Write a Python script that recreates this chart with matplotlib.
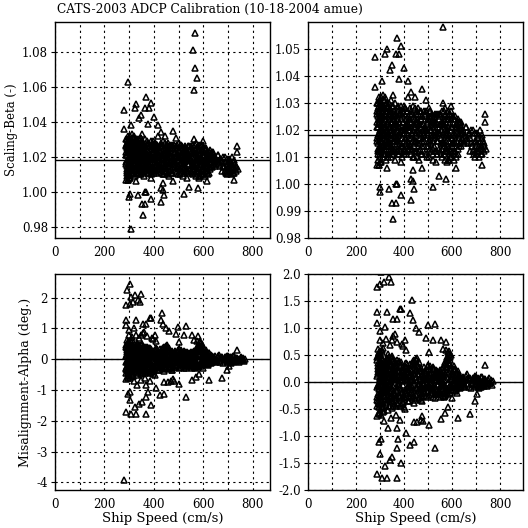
import matplotlib
matplotlib.use("Agg")
import matplotlib.pyplot as plt
from matplotlib.ticker import MultipleLocator, FormatStrFormatter

# core ensembles: ship speed (cm/s), scaling beta (-), misalignment alpha (deg)
speed = [
    288, 291, 293, 295, 297, 299, 301, 303, 305, 307,
    289, 292, 294, 296, 298, 300, 302, 304, 306, 308,
    310, 312, 314, 316, 318, 311, 313, 315, 317, 319,
    290, 294, 298, 302, 306, 309, 313, 317, 296, 300,
    304, 308, 312, 316, 320, 287, 292, 297, 303, 311,
    322, 325, 328, 331, 334, 337, 340, 343, 346, 349,
    352, 355, 358, 324, 327, 330, 333, 336, 339, 342,
    345, 348, 351, 354, 357, 360, 321, 326, 332, 338,
    344, 350, 356, 329, 335, 341, 347, 353, 359, 323,
    362, 366, 370, 374, 378, 382, 386, 390, 394, 398,
    402, 406, 410, 414, 418, 364, 368, 372, 376, 380,
    384, 388, 392, 396, 400, 404, 408, 412, 416, 420,
    363, 369, 375, 381, 387, 393, 399, 405, 411, 417,
    367, 379, 391, 403, 415,
    422, 426, 430, 434, 438, 442, 446, 450, 454, 458,
    462, 466, 470, 474, 478, 424, 428, 432, 436, 440,
    444, 448, 452, 456, 460, 464, 468, 472, 476, 480,
    425, 435, 445, 455, 465, 475, 431, 441, 451, 461,
    483, 487, 491, 495, 499, 503, 507, 511, 515, 519,
    523, 527, 531, 535, 539, 485, 489, 493, 497, 501,
    505, 509, 513, 517, 521, 525, 529, 533, 537, 490,
    500, 510, 520, 530, 540,
    543, 547, 551, 555, 559, 563, 567, 571, 575, 579,
    583, 587, 591, 595, 599, 545, 549, 553, 557, 561,
    565, 569, 573, 577, 581, 585, 589, 593, 597, 600,
    548, 558, 568, 578, 588, 598, 576, 584, 592, 580,
    603, 606, 609, 612, 615, 618, 621, 624, 627, 630,
    633, 636, 639, 604, 610, 616, 622, 628, 634, 640,
    607, 619,
    645, 652, 659, 666, 673, 680, 687, 649, 663, 677,
    692, 696, 700, 704, 708, 712, 716, 720, 724, 728,
    732, 698, 706, 714, 722, 730,
    # second pass
    286, 289, 291, 294, 296, 299, 301, 304, 306, 309,
    311, 314, 316, 319, 287, 290, 293, 295, 298, 300,
    303, 305, 308, 310, 313, 315, 318, 320, 288, 292,
    297, 301, 305, 309, 314, 318, 290, 299, 307, 316,
    321, 324, 326, 329, 331, 334, 336, 339, 341, 344,
    346, 349, 351, 354, 356, 359, 322, 327, 333, 337,
    342, 347, 352, 357, 325, 330, 335, 340, 345, 350, 355, 360,
    361, 365, 368, 371, 375, 378, 381, 385, 388, 391,
    395, 398, 401, 405, 408, 411, 415, 419, 363, 370,
    377, 383, 390, 397, 404, 410, 417, 366, 373, 380,
    389, 396, 406, 413, 420,
    421, 425, 429, 433, 437, 441, 445, 449, 453, 457,
    461, 465, 469, 473, 477, 423, 431, 439, 447, 455,
    463, 471, 479, 427, 443, 459, 475, 435, 451, 467,
    481, 485, 489, 493, 497, 501, 505, 509, 513, 517,
    521, 525, 529, 533, 537, 482, 488, 494, 502, 508,
    514, 522, 528, 534, 498, 518, 538, 512,
    541, 545, 549, 553, 557, 561, 565, 569, 573, 577,
    581, 585, 589, 593, 597, 544, 552, 560, 568, 576,
    584, 592, 600, 550, 566, 582, 598, 556, 572, 588, 590, 579,
    601, 605, 608, 611, 614, 617, 620, 623, 626, 629, 632, 635, 638, 613, 625, 637,
    642, 648, 655, 662, 669, 676, 683, 689,
    694, 702, 710, 718, 726, 734, 690, 699, 709, 717, 725, 733,
]
beta = [
    1.021, 1.028, 1.015, 1.032, 1.024, 1.011, 1.019, 1.026, 1.013, 1.030,
    1.017, 1.009, 1.027, 1.022, 1.014, 1.031, 1.020, 1.008, 1.025, 1.016,
    1.023, 1.029, 1.012, 1.018, 1.026, 1.033, 1.010, 1.021, 1.015, 1.028,
    1.025, 1.019, 1.030, 1.013, 1.022, 1.017, 1.027, 1.011, 1.024, 1.016,
    1.029, 1.020, 1.014, 1.031, 1.019, 1.027, 1.012, 1.023, 1.018, 1.025,
    1.024, 1.013, 1.029, 1.018, 1.010, 1.026, 1.021, 1.015, 1.031, 1.012,
    1.023, 1.019, 1.027, 1.016, 1.030, 1.022, 1.011, 1.025, 1.014, 1.028,
    1.020, 1.017, 1.029, 1.013, 1.024, 1.018, 1.032, 1.020, 1.015, 1.030,
    1.023, 1.011, 1.021, 1.027, 1.019, 1.012, 1.026, 1.016, 1.022, 1.009,
    1.018, 1.026, 1.012, 1.029, 1.021, 1.015, 1.024, 1.010, 1.027, 1.019,
    1.013, 1.028, 1.022, 1.016, 1.025, 1.030, 1.014, 1.020, 1.011, 1.026,
    1.019, 1.029, 1.017, 1.023, 1.012, 1.021, 1.015, 1.027, 1.018, 1.024,
    1.023, 1.016, 1.027, 1.013, 1.020, 1.025, 1.011, 1.028, 1.019, 1.014,
    1.022, 1.018, 1.014, 1.017, 1.021,
    1.021, 1.014, 1.027, 1.018, 1.010, 1.025, 1.016, 1.022, 1.012, 1.028,
    1.019, 1.015, 1.024, 1.011, 1.020, 1.026, 1.017, 1.013, 1.029, 1.021,
    1.015, 1.023, 1.018, 1.010, 1.026, 1.020, 1.013, 1.027, 1.016, 1.022,
    1.024, 1.019, 1.012, 1.027, 1.017, 1.025, 1.011, 1.022, 1.016, 1.009,
    1.018, 1.025, 1.011, 1.022, 1.015, 1.028, 1.013, 1.020, 1.026, 1.009,
    1.017, 1.023, 1.012, 1.019, 1.026, 1.014, 1.021, 1.027, 1.010, 1.024,
    1.016, 1.020, 1.012, 1.025, 1.018, 1.014, 1.022, 1.008, 1.016, 1.020,
    1.023, 1.017, 1.011, 1.021, 1.019,
    1.021, 1.013, 1.026, 1.017, 1.010, 1.023, 1.015, 1.028, 1.019, 1.012,
    1.024, 1.009, 1.020, 1.027, 1.014, 1.018, 1.025, 1.011, 1.022, 1.016,
    1.027, 1.012, 1.020, 1.024, 1.008, 1.017, 1.026, 1.013, 1.021, 1.015,
    1.019, 1.023, 1.014, 1.018, 1.022, 1.010, 1.016, 1.025, 1.011, 1.020,
    1.018, 1.012, 1.024, 1.015, 1.021, 1.010, 1.019, 1.023, 1.013, 1.017,
    1.022, 1.014, 1.020, 1.025, 1.016, 1.011, 1.021, 1.018, 1.015, 1.019,
    1.009, 1.022,
    1.019, 1.016, 1.021, 1.015, 1.018, 1.015, 1.020, 1.015, 1.017, 1.012,
    1.013, 1.010, 1.016, 1.012, 1.018, 1.014, 1.020, 1.011, 1.017, 1.013,
    1.015, 1.019, 1.015, 1.010, 1.014, 1.016,
    # second pass
    1.016, 1.023, 1.030, 1.012, 1.027, 1.019, 1.008, 1.022, 1.028, 1.014,
    1.020, 1.025, 1.031, 1.011, 1.026, 1.013, 1.021, 1.029, 1.017, 1.010,
    1.024, 1.032, 1.015, 1.027, 1.019, 1.023, 1.013, 1.021, 1.030, 1.018,
    1.007, 1.026, 1.016, 1.029, 1.022, 1.017, 1.011, 1.024, 1.020, 1.028,
    1.019, 1.027, 1.014, 1.022, 1.030, 1.016, 1.024, 1.011, 1.028, 1.020,
    1.013, 1.025, 1.017, 1.029, 1.021, 1.012, 1.026, 1.018, 1.023, 1.015,
    1.027, 1.010, 1.019, 1.025, 1.021, 1.014, 1.028, 1.017, 1.023, 1.020, 1.013, 1.026,
    1.025, 1.013, 1.021, 1.017, 1.028, 1.011, 1.023, 1.019, 1.014, 1.026,
    1.020, 1.029, 1.016, 1.012, 1.024, 1.027, 1.013, 1.020, 1.016, 1.022,
    1.018, 1.026, 1.021, 1.014, 1.028, 1.011, 1.022, 1.019, 1.024, 1.016,
    1.012, 1.027, 1.020, 1.023, 1.015,
    1.017, 1.023, 1.012, 1.026, 1.020, 1.014, 1.028, 1.019, 1.024, 1.015,
    1.022, 1.027, 1.011, 1.018, 1.025, 1.013, 1.021, 1.016, 1.024, 1.020,
    1.012, 1.022, 1.017, 1.028, 1.010, 1.023, 1.014, 1.019, 1.026, 1.021,
    1.022, 1.016, 1.026, 1.012, 1.019, 1.024, 1.010, 1.027, 1.015, 1.021,
    1.013, 1.025, 1.018, 1.023, 1.011, 1.027, 1.020, 1.014, 1.018, 1.025,
    1.022, 1.016, 1.026, 1.012, 1.020, 1.023, 1.022, 1.018,
    1.016, 1.024, 1.012, 1.020, 1.027, 1.015, 1.022, 1.009, 1.025, 1.018,
    1.013, 1.021, 1.016, 1.010, 1.024, 1.026, 1.019, 1.013, 1.024, 1.012,
    1.019, 1.023, 1.017, 1.022, 1.011, 1.027, 1.012, 1.015, 1.021, 1.018, 1.026, 1.014,
    1.021, 1.015, 1.019, 1.025, 1.012, 1.022, 1.016, 1.020, 1.024, 1.014, 1.019, 1.023, 1.016, 1.018, 1.011, 1.021,
    1.017, 1.020, 1.018, 1.016, 1.019, 1.017, 1.014, 1.012,
    1.016, 1.011, 1.017, 1.013, 1.018, 1.012, 1.011, 1.014, 1.012, 1.016, 1.011, 1.014,
]
alpha = [
    0.12, -0.35, 0.48, -0.08, 0.27, -0.52, 0.05, 0.39, -0.21, 0.60,
    -0.44, 0.18, -0.13, 0.55, -0.29, 0.02, 0.33, -0.61, 0.22, -0.05,
    0.44, -0.38, 0.09, -0.18, 0.31, -0.47, 0.63, -0.25, 0.15, -0.02,
    0.25, -0.57, 0.07, 0.50, -0.31, 0.36, -0.11, 0.21, -0.41, 0.58,
    -0.16, 0.04, 0.41, -0.24, 0.13, -0.33, 0.29, -0.07, 0.17, -0.49,
    0.21, -0.32, 0.43, -0.12, 0.08, -0.45, 0.34, -0.02, 0.17, -0.26,
    0.49, -0.38, 0.11, 0.28, -0.19, 0.03, -0.51, 0.38, -0.08, 0.14,
    -0.29, 0.45, -0.15, 0.24, -0.41, 0.06, 0.31, -0.23, 0.52, -0.04,
    0.19, -0.35, 0.27, -0.10, 0.40, -0.27, 0.01, -0.44, 0.16, 0.36,
    -0.22, 0.31, 0.05, -0.41, 0.18, -0.09, 0.37, -0.30, 0.12, -0.47,
    0.24, -0.15, 0.02, 0.33, -0.36, 0.15, -0.27, 0.40, -0.04, 0.21,
    -0.44, 0.09, -0.19, 0.28, -0.33, 0.06, 0.35, -0.12, 0.19, -0.25,
    0.26, -0.38, 0.11, -0.06, 0.32, -0.21, 0.17, -0.50, 0.04, 0.23,
    -0.14, 0.38, -0.30, 0.13, -0.08,
    0.18, -0.27, 0.05, 0.32, -0.14, 0.41, -0.33, 0.09, 0.45, -0.06,
    0.26, -0.21, 0.12, -0.36, 0.03, -0.09, 0.22, -0.30, 0.36, -0.02,
    0.15, -0.24, 0.40, -0.11, 0.29, -0.17, 0.07, -0.34, 0.20, -0.04,
    0.10, -0.19, 0.28, 0.34, -0.27, 0.14, 0.01, -0.38, 0.23, -0.13,
    -0.12, 0.21, -0.26, 0.08, 0.29, -0.07, 0.15, -0.20, 0.02, 0.25,
    -0.15, 0.11, -0.29, 0.18, -0.03, 0.27, -0.18, 0.06, -0.09, 0.14,
    -0.24, 0.22, -0.01, -0.13, 0.10, 0.24, -0.22, 0.04, -0.17, 0.16,
    -0.05, 0.30, -0.11, 0.07, -0.20,
    0.09, -0.18, 0.22, -0.05, 0.14, -0.25, 0.03, 0.31, -0.12, 0.42,
    -0.02, 0.18, -0.21, 0.50, -0.08, -0.14, 0.06, -0.28, 0.25, -0.01,
    0.12, -0.16, 0.37, -0.23, 0.28, 0.55, -0.10, 0.46, 0.05, -0.30,
    0.17, -0.07, 0.20, 0.47, 0.33, 0.10, 0.60, 0.40, 0.26, -0.19,
    0.12, -0.15, 0.04, 0.22, -0.08, 0.16, -0.20, 0.07, -0.03, 0.13,
    -0.11, 0.05, -0.06, -0.02, 0.30, -0.14, 0.19, -0.09, 0.10, 0.02,
    0.25, -0.04,
    0.06, -0.09, 0.11, -0.03, 0.08, -0.12, 0.02, -0.05, 0.14, 0.04,
    0.05, -0.08, 0.10, -0.02, 0.07, -0.11, 0.01, 0.09, -0.05, 0.04,
    -0.07, 0.12, -0.04, 0.06, -0.09, 0.02,
    # second pass
    -0.28, 0.40, -0.06, 0.23, -0.46, 0.10, 0.52, -0.17, 0.34, -0.36,
    0.07, -0.55, 0.26, -0.10, 0.46, -0.22, 0.14, -0.39, 0.37, -0.01,
    -0.27, 0.19, 0.56, -0.43, 0.02, 0.30, -0.19, 0.09, -0.09, 0.62,
    -0.60, 0.16, -0.34, 0.42, -0.14, 0.24, 0.35, -0.25, 0.00, -0.53,
    -0.14, 0.25, -0.40, 0.36, -0.05, 0.13, -0.31, 0.47, -0.18, 0.04,
    0.30, -0.48, 0.20, -0.07, 0.42, -0.22, 0.09, -0.37, 0.16, 0.33,
    -0.25, 0.07, -0.12, 0.29, -0.02, 0.45, -0.33, 0.22, -0.16, 0.10, 0.38, -0.30,
    0.08, -0.34, 0.27, -0.16, 0.03, 0.35, -0.24, 0.14, -0.42, 0.22,
    -0.05, 0.10, -0.28, 0.30, -0.18, 0.06, 0.25, -0.35, 0.39, -0.11,
    -0.03, -0.26, 0.18, 0.04, -0.20, 0.28, -0.10, -0.45, 0.20, 0.00,
    -0.15, -0.38, 0.15, -0.22, 0.11,
    -0.08, 0.25, -0.18, 0.12, 0.38, -0.25, 0.20, 0.42, -0.10, 0.30,
    -0.30, 0.05, -0.14, 0.26, -0.22, 0.33, -0.05, 0.16, -0.29, 0.02,
    0.37, -0.08, 0.10, -0.20, 0.31, 0.15, -0.28, 0.08, -0.12, 0.20,
    0.14, -0.20, 0.05, -0.09, 0.22, -0.28, 0.09, -0.02, 0.19, -0.16,
    0.27, -0.06, 0.12, -0.23, 0.20, -0.04, 0.17, -0.19, 0.32, -0.10,
    0.06, -0.27, 0.13, 0.23, 0.00, 0.08, 0.10, -0.12,
    -0.06, 0.19, -0.22, 0.08, -0.13, 0.27, -0.03, 0.15, -0.26, 0.35,
    0.10, -0.14, 0.52, -0.05, 0.22, 0.02, -0.18, 0.12, -0.09, 0.28,
    -0.22, 0.34, 0.06, 0.20, -0.27, 0.44, -0.12, 0.01, -0.15, 0.58, 0.40, 0.18,
    -0.10, 0.18, -0.05, 0.09, -0.17, 0.02, 0.14, -0.12, 0.06, -0.08, 0.11, -0.02, 0.08, 0.25, 0.20, -0.10,
    -0.04, 0.09, -0.07, 0.05, -0.10, 0.07, -0.03, 0.08,
    -0.04, 0.06, -0.09, 0.03, -0.02, 0.05, 0.08, -0.06, 0.04, -0.07, 0.09, -0.01,
]

# scattered beta values away from the main cloud
beta_out_speed = [
    565, 557, 568, 573, 564, 295, 278, 329, 322, 369, 389, 365, 380,
    349, 340, 400, 378, 416, 430, 477, 446, 416, 278, 309, 353, 490,
    306, 286, 295, 302, 299, 336, 352, 365, 356, 365, 369, 389, 430,
    430, 436, 440, 436, 523, 577, 544, 725, 742, 738, 738, 329, 362,
    477, 389, 617, 584, 658, 678, 705, 638, 597, 564,
]
beta_out = [
    1.091, 1.081, 1.071, 1.065, 1.058, 1.063, 1.047, 1.050, 1.048, 1.054, 1.051, 1.048, 1.048,
    1.044, 1.042, 1.043, 1.039, 1.038, 1.034, 1.035, 1.032, 1.032, 1.036, 1.038, 1.033, 1.031,
    0.979, 1.007, 1.007, 0.999, 0.997, 0.998, 0.993, 0.993, 0.987, 1.000, 1.000, 0.996, 0.994,
    1.002, 1.001, 0.998, 1.005, 0.999, 1.002, 1.003, 1.007, 1.013, 1.026, 1.023, 1.006, 1.009,
    1.006, 1.008, 1.006, 1.009, 1.021, 1.020, 1.019, 1.023, 1.029, 1.030,
]

# scattered alpha values and the high-speed tail
alpha_out_speed = [
    302, 293, 306, 322, 336, 349, 345, 289, 302, 315, 286, 289, 329, 356, 383, 389, 369,
    432, 427, 436, 450, 463, 490, 499, 530, 503, 523, 554, 564, 577, 403, 362, 349, 738,
    289, 295, 289, 309, 329, 322, 340, 352, 369, 389, 302, 305, 369, 376, 369, 423, 409,
    443, 456, 477, 443, 530, 554, 570, 584, 624, 675, 698, 705, 279, 503,
    298, 312, 326, 340, 355, 372, 392, 318, 333, 347, 366, 385, 300, 320, 395, 410, 470, 480,
    738, 742, 746, 750, 754, 758, 762, 766, 770, 744, 752, 760,
]
alpha_out = [
    2.44, 2.24, 2.03, 2.08, 1.94, 2.13, 1.86, 1.76, 1.81, 1.86, 1.29, 1.10, 1.29, 1.16, 1.35, 1.35, 1.16,
    1.51, 1.27, 1.14, 1.00, 0.92, 0.81, 1.05, 1.07, 0.56, 0.78, 0.78, 0.62, 0.75, 0.78, 0.89, 0.78, 0.31,
    -0.63, -1.12, -1.71, -1.77, -1.77, -1.55, -1.44, -1.39, -1.77, -1.50, -1.33, -1.06, -1.22, -1.06, -0.85, -1.17, -0.95,
    -1.12, -0.74, -0.63, -0.74, -1.22, -0.68, -0.57, -0.47, -0.66, -0.60, -0.36, -0.23, -3.93, -0.79,
    0.78, 0.72, 0.80, 0.68, 0.85, 0.74, 0.70, -0.72, -0.85, -0.66, -0.62, -0.70, 0.95, 1.02, 0.66, 0.60, -0.70, -0.72,
    0.05, -0.06, 0.02, -0.03, 0.07, -0.01, 0.03, -0.05, 0.01, -0.08, 0.04, -0.02,
]

beta_mean = 1.018
alpha_mean = 0.0

title = "CATS-2003 ADCP Calibration (10-18-2004 amue)"
xlabel = "Ship Speed (cm/s)"
ylabel_beta = "Scaling-Beta (-)"
ylabel_alpha = "Misalignment-Alpha (deg.)"

plt.rcParams["font.family"] = "DejaVu Serif"

fig = plt.figure(figsize=(5.28, 5.28), dpi=100)
W = 215 / 528
H = 216 / 528
ax_tl = fig.add_axes([55 / 528, 1 - 238 / 528, W, H])
ax_tr = fig.add_axes([308 / 528, 1 - 238 / 528, W, H])
ax_bl = fig.add_axes([55 / 528, 1 - 490 / 528, W, H])
ax_br = fig.add_axes([308 / 528, 1 - 490 / 528, W, H])

panels = [
    (ax_tl, speed + beta_out_speed, beta + beta_out, beta_mean, (0, 870), (0.9737, 1.0971), 0.02, "%.2f"),
    (ax_tr, speed + beta_out_speed, beta + beta_out, beta_mean, (0, 896), (0.98, 1.0599), 0.01, "%.2f"),
    (ax_bl, speed + alpha_out_speed, alpha + alpha_out, alpha_mean, (0, 870), (-4.25, 2.77), 1.0, "%d"),
    (ax_br, speed + alpha_out_speed, alpha + alpha_out, alpha_mean, (0, 896), (-2.0, 2.0), 0.5, "%.1f"),
]

for ax, xs, ys, m, xl, yl, ystep, fmt in panels:
    ax.plot(xs, ys, linestyle="none", marker="^", ms=4.8, mfc="none",
            mec="black", mew=1.1, clip_on=True)
    ax.axhline(m, color="black", lw=1.0)
    ax.set_xlim(*xl)
    ax.set_ylim(*yl)
    ax.xaxis.set_major_locator(MultipleLocator(200))
    ax.xaxis.set_minor_locator(MultipleLocator(100))
    ax.yaxis.set_major_locator(MultipleLocator(ystep))
    ax.yaxis.set_major_formatter(FormatStrFormatter(fmt))
    ax.grid(True, which="both", axis="x", color="black", lw=0.8, linestyle=(0, (2, 3)))
    ax.grid(True, which="major", axis="y", color="black", lw=0.8, linestyle=(0, (2, 3)))
    ax.tick_params(axis="x", which="both", length=0, labelsize=8.5, pad=5.5)
    ax.tick_params(axis="y", length=3, width=0.8, labelsize=8.5, pad=2)
    for s in ax.spines.values():
        s.set_linewidth(1.0)

ax_tl.set_ylabel(ylabel_beta, fontsize=8.5, labelpad=3)
ax_bl.set_ylabel(ylabel_alpha, fontsize=9, labelpad=3)
ax_bl.set_xlabel(xlabel, fontsize=9.5, labelpad=1)
ax_br.set_xlabel(xlabel, fontsize=9.5, labelpad=1)

fig.text(57 / 528, 1 - 3 / 528, title, ha="left", va="top", fontsize=8.8)

fig.savefig("out.png", dpi=100)
